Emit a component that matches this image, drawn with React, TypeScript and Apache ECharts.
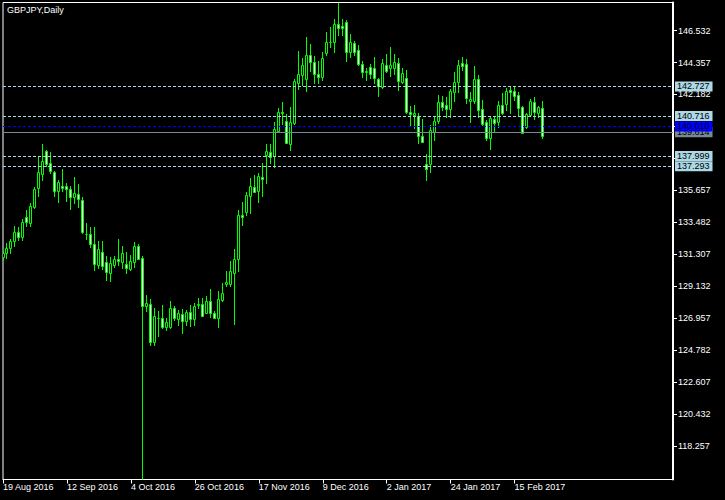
import React, { useEffect, useRef } from 'react';
import * as echarts from 'echarts';

// Daily OHLC bars (19 Aug 2016 .. 24 Feb 2017)
const OPEN = [
  131.14, 131.39, 131.73, 132.22, 132.82, 132.48, 133.84, 133.43, 134.52, 135.81,
  136.76, 138.35, 137.51, 136.90, 135.65, 135.99, 135.95, 135.74, 135.20, 135.40,
  134.99, 132.70, 132.72, 132.00, 130.59, 131.50, 130.76, 130.07, 130.59, 130.98,
  130.82, 130.64, 130.32, 130.82, 131.89, 131.05, 127.82, 127.92, 125.37, 126.99,
  126.97, 126.39, 126.39, 127.65, 126.92, 127.26, 126.80, 127.37, 126.90, 127.84,
  127.92, 127.35, 128.14, 127.31, 127.01, 128.21, 129.30, 129.30, 130.03, 130.98,
  133.99, 134.18, 135.31, 135.88, 135.65, 136.56, 138.08, 138.26, 138.01, 139.73,
  140.98, 140.41, 138.80, 140.27, 142.99, 143.52, 143.23, 144.88, 144.38, 143.59,
  143.36, 145.03, 145.74, 145.72, 146.99, 146.85, 147.10, 145.10, 145.67, 145.22,
  144.25, 143.74, 144.04, 143.97, 143.25, 142.72, 144.20, 144.01, 143.97, 144.31,
  143.02, 143.29, 140.98, 140.80, 140.75, 139.39, 137.46, 137.44, 139.66, 140.41,
  141.70, 141.48, 141.18, 142.38, 143.02, 144.31, 144.25, 141.77, 141.77, 143.25,
  141.20, 140.30, 139.21, 140.52, 140.30, 141.48, 141.52, 142.50, 142.45, 142.16,
  141.32, 139.96, 140.80, 141.66, 140.95, 141.25,
];
const CLOSE = [
  131.41, 131.73, 132.22, 132.82, 132.52, 133.54, 133.50, 134.59, 135.78, 136.90,
  137.69, 137.44, 137.01, 135.65, 136.22, 135.81, 135.74, 135.20, 135.47, 135.06,
  132.82, 132.67, 132.00, 130.64, 131.66, 130.50, 130.08, 130.71, 131.00, 130.86,
  131.39, 130.41, 130.88, 131.89, 131.00, 127.76, 127.99, 125.37, 127.12, 126.95,
  126.39, 126.69, 127.65, 127.01, 127.31, 126.74, 127.37, 126.90, 127.82, 127.93,
  127.14, 128.14, 127.31, 127.01, 128.28, 128.67, 129.42, 130.18, 131.00, 133.99,
  133.88, 135.35, 135.97, 135.58, 136.65, 136.44, 138.35, 137.96, 139.82, 141.02,
  140.91, 138.91, 140.30, 143.11, 143.57, 144.20, 144.88, 144.42, 143.57, 143.40,
  144.65, 145.74, 145.78, 146.99, 146.69, 146.69, 145.06, 145.74, 145.10, 144.25,
  143.70, 143.81, 143.59, 143.29, 142.79, 144.31, 143.81, 144.20, 144.38, 143.13,
  143.63, 141.02, 140.87, 140.91, 139.39, 138.98, 137.12, 139.78, 140.41, 141.66,
  141.36, 141.18, 142.45, 143.02, 144.20, 144.15, 141.97, 141.89, 143.25, 141.14,
  140.18, 139.21, 140.57, 140.27, 141.46, 140.91, 142.45, 142.38, 142.11, 141.25,
  139.59, 140.87, 141.77, 141.02, 141.36, 139.36,
];
const LOW = [
  130.93, 131.05, 131.39, 131.89, 132.29, 132.25, 133.25, 133.25, 134.47, 135.29,
  136.38, 137.33, 136.83, 135.29, 134.90, 135.65, 134.97, 134.38, 134.83, 134.52,
  132.77, 132.34, 131.84, 130.25, 130.37, 130.32, 129.57, 129.52, 130.48, 130.59,
  130.37, 130.03, 130.25, 130.44, 130.98, 116.03, 127.42, 125.15, 125.15, 125.76,
  126.29, 126.17, 126.29, 126.85, 126.51, 125.99, 126.51, 126.44, 126.51, 127.65,
  127.08, 127.29, 127.03, 126.97, 126.39, 128.14, 129.12, 129.12, 126.58, 130.18,
  133.31, 133.99, 134.11, 135.54, 134.90, 135.31, 136.19, 137.51, 137.28, 139.66,
  140.18, 138.87, 138.42, 140.18, 142.55, 142.84, 142.45, 143.81, 142.95, 142.95,
  143.18, 144.88, 145.44, 145.10, 146.24, 146.24, 144.49, 144.76, 144.88, 144.20,
  143.40, 143.18, 143.29, 142.95, 142.11, 142.61, 143.74, 143.45, 143.59, 142.50,
  142.95, 140.95, 140.05, 139.89, 138.87, 138.93, 136.38, 136.94, 139.10, 140.27,
  141.14, 140.68, 140.68, 141.77, 142.38, 143.86, 141.59, 140.34, 141.59, 140.68,
  140.12, 139.10, 138.46, 139.73, 139.96, 140.87, 141.14, 140.95, 141.82, 140.80,
  139.55, 139.89, 140.73, 140.50, 140.64, 139.25,
];
const HIGH = [
  131.51, 132.07, 132.34, 133.25, 133.16, 133.72, 134.33, 134.79, 135.90, 137.96,
  138.80, 138.42, 138.26, 137.01, 136.38, 137.10, 136.15, 135.99, 136.56, 136.10,
  135.20, 133.43, 133.16, 133.16, 132.22, 132.22, 131.20, 131.12, 131.22, 132.36,
  131.89, 131.46, 131.27, 132.14, 132.02, 131.20, 128.55, 128.28, 127.65, 127.42,
  127.87, 127.01, 128.10, 127.80, 127.53, 127.60, 127.53, 127.87, 127.99, 128.33,
  128.33, 128.44, 128.94, 127.46, 128.82, 129.35, 130.18, 130.86, 131.68, 134.29,
  134.90, 135.54, 136.49, 136.72, 136.83, 137.51, 138.82, 138.82, 140.34, 141.25,
  141.66, 140.87, 141.32, 143.25, 145.15, 144.65, 146.06, 145.63, 144.81, 144.49,
  145.10, 146.40, 146.74, 147.31, 148.40, 147.33, 147.26, 146.31, 145.83, 145.56,
  144.47, 144.01, 144.27, 144.70, 143.33, 144.59, 144.95, 145.38, 144.95, 144.65,
  143.97, 143.86, 141.41, 141.48, 140.91, 140.52, 138.14, 140.12, 140.68, 142.16,
  142.11, 142.04, 142.55, 143.70, 144.54, 144.72, 144.59, 142.38, 144.13, 143.52,
  141.82, 140.46, 140.68, 140.68, 141.77, 142.27, 142.61, 142.77, 142.77, 142.38,
  141.41, 140.91, 141.86, 142.00, 141.41, 141.77,
];

// Date labels, one every 16 bars starting at the first bar
const X_LABELS = [
  '19 Aug 2016', '12 Sep 2016', '4 Oct 2016', '26 Oct 2016', '17 Nov 2016',
  '9 Dec 2016', '2 Jan 2017', '24 Jan 2017', '15 Feb 2017',
];
const X_LABEL_STEP = 16;

// Price scale ticks
const Y_TICKS = [
  118.257, 120.432, 122.607, 124.782, 126.957, 129.132, 131.307, 133.482,
  135.657, 137.832, 140.007, 142.182, 144.357, 146.532,
];
const Y_TICKS_COVERED = [137.832, 140.007];

// Horizontal levels
const LEVELS_LIGHT = [142.727, 140.716, 137.999, 137.293];
const LEVEL_BLUE = 140.01;
const LEVEL_BID = 139.614;

const Y_MIN = 115.99;
const Y_MAX = 148.44;
const X_MIN = 0;
const X_MAX = 167.625;

const FONT = '"Liberation Sans", Arial, sans-serif';
const GREEN = '#00ff00';
const LIGHT = '#add8e6';
const BLUE = '#0000ff';
const SLATE = '#778899';

export default function App() {
  const ref = useRef<HTMLDivElement>(null);

  useEffect(() => {
    if (!ref.current) return;
    const chart = echarts.init(ref.current, undefined, { renderer: 'svg' });
    const labelIdx = X_LABELS.map((_, k) => k * X_LABEL_STEP);
    const yLabelVals = Y_TICKS.filter((v) => !Y_TICKS_COVERED.includes(v));

    const lvl = (v: number, color: string, type: any) => ({
      yAxis: v,
      lineStyle: { color, type, width: 1 },
      label: { backgroundColor: color },
    });

    const renderCandle = (params: any, api: any) => {
      const i = api.value(0);
      const o = api.value(1);
      const c = api.value(2);
      const l = api.value(3);
      const h = api.value(4);
      const [x, yo] = api.coord([i, o]);
      const yc = api.coord([i, c])[1];
      const yl = api.coord([i, l])[1];
      const yh = api.coord([i, h])[1];
      const cx = Math.floor(x) + 0.5;
      const top = Math.round(Math.min(yo, yc)) + 0.5;
      const bot = Math.round(Math.max(yo, yc)) + 0.5;
      return {
        type: 'group',
        children: [
          {
            type: 'line',
            shape: { x1: cx, y1: Math.round(yh), x2: cx, y2: Math.round(yl) + 1 },
            style: { stroke: GREEN, lineWidth: 1 },
          },
          {
            type: 'rect',
            shape: { x: cx - 1, y: top, width: 2, height: Math.max(0, bot - top) },
            style: { fill: c >= o ? '#000000' : '#ffffff', stroke: GREEN, lineWidth: 1 },
          },
        ],
      };
    };

    const option: any = {
      animation: false,
      backgroundColor: '#000000',
      title: {
        text: 'GBPJPY,Daily',
        left: 7,
        top: 5,
        padding: 0,
        textStyle: { color: '#ffffff', fontSize: 9, fontWeight: 'normal', fontFamily: FONT },
      },
      grid: {
        left: 2.5,
        top: 2.5,
        right: 52,
        bottom: 20.5,
        show: true,
        borderColor: '#ffffff',
        borderWidth: 1,
        backgroundColor: 'transparent',
      },
      xAxis: {
        type: 'value',
        min: X_MIN,
        max: X_MAX,
        axisLine: { show: true, onZero: false, lineStyle: { color: '#ffffff', width: 1 } },
        axisTick: { show: true, length: 4, customValues: labelIdx, lineStyle: { color: '#ffffff' } },
        axisLabel: {
          customValues: labelIdx,
          formatter: (v: number) => X_LABELS[Math.round(v / X_LABEL_STEP)] ?? '',
          color: '#ffffff',
          fontSize: 9,
          fontFamily: FONT,
          align: 'left',
          margin: 3,
        },
        splitLine: { show: false },
      },
      yAxis: {
        type: 'value',
        position: 'right',
        min: Y_MIN,
        max: Y_MAX,
        axisLine: { show: true, onZero: false, lineStyle: { color: '#ffffff', width: 2 } },
        axisTick: { show: true, length: 4, customValues: Y_TICKS, lineStyle: { color: '#ffffff' } },
        axisLabel: {
          customValues: yLabelVals,
          formatter: (v: number) => v.toFixed(3),
          color: '#ffffff',
          fontSize: 9,
          lineHeight: 8,
          padding: [2, 0, 0, 0],
          fontFamily: FONT,
          margin: 5,
        },
        splitLine: { show: false },
      },
      series: [
        {
          type: 'custom',
          clip: true,
          renderItem: renderCandle,
          encode: { x: 0, y: [1, 2, 3, 4] },
          data: OPEN.map((o, i) => [i, o, CLOSE[i], LOW[i], HIGH[i]]),
          markLine: {
            silent: true,
            symbol: ['none', 'none'],
            precision: 3,
            z: 5,
            label: {
              show: true,
              position: 'end',
              distance: 2,
              formatter: (p: any) => Number(p.value).toFixed(3),
              color: '#000000',
              fontSize: 9,
              lineHeight: 9,
              fontFamily: FONT,
              padding: [1, 3, 0, 2],
            },
            data: [
              lvl(LEVEL_BID, SLATE, 'solid'),
              ...LEVELS_LIGHT.map((v) => lvl(v, LIGHT, [3, 2])),
              lvl(LEVEL_BLUE, BLUE, [3, 2]),
            ],
          },
        },
      ],
    };

    chart.setOption(option);
    return () => chart.dispose();
  }, []);

  return (
    <div
      ref={ref}
      style={{ position: 'fixed', left: 0, top: 0, width: 725, height: 500, background: '#000' }}
    />
  );
}
